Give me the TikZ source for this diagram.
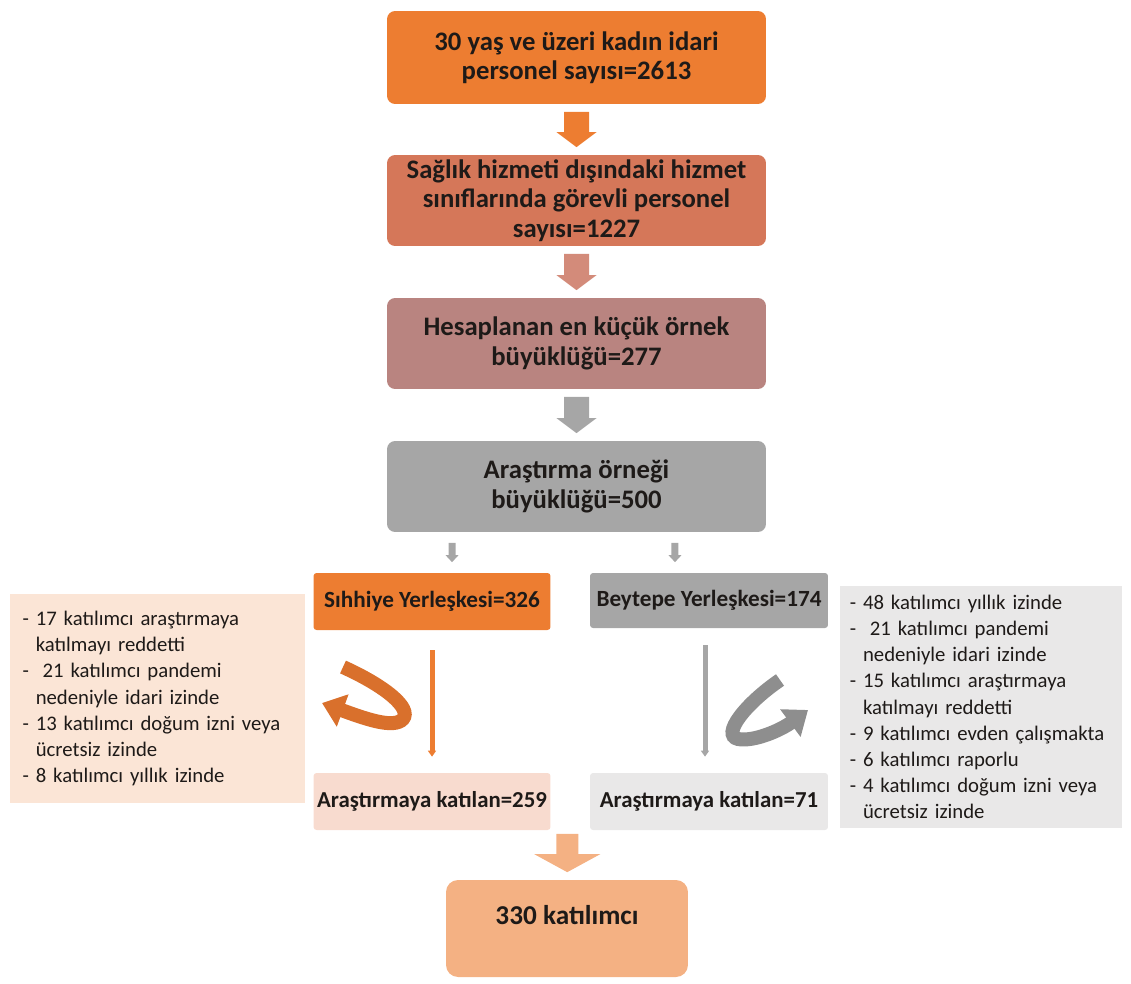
\documentclass[tikz,border=0pt]{standalone}
\usepackage{fontspec}
\setmainfont{Carlito}
\usetikzlibrary{calc,arrows.meta}
\definecolor{txt}{HTML}{1E1A18}
\definecolor{cOne}{HTML}{ED7D31}
\definecolor{cTwo}{HTML}{D57759}
\definecolor{cArTwo}{HTML}{D38B7A}
\definecolor{cThree}{HTML}{B98480}
\definecolor{cGray}{HTML}{A6A6A6}
\definecolor{cLnote}{HTML}{FBE5D6}
\definecolor{cRnote}{HTML}{E9E8E8}
\definecolor{cPink}{HTML}{F8DBCF}
\definecolor{cPeach}{HTML}{F4B183}
\definecolor{cUor}{HTML}{D9702C}
\definecolor{cUgr}{HTML}{8E8E8E}
\begin{document}
\begin{tikzpicture}[x=0.02cm,y=-0.02cm]
\tikzset{
  bigbox/.style={rounded corners=0.16cm, align=center, text=txt, inner sep=0pt,
    font=\bfseries\fontsize{15.2}{16.8}\selectfont, minimum width=7.58cm, minimum height=1.82cm},
  midbox/.style={rounded corners=0.06cm, align=center, text=txt, inner sep=0pt,
    font=\bfseries\fontsize{13.2}{15}\selectfont, minimum width=4.74cm, minimum height=1.14cm},
  notebox/.style={align=left, text=txt, inner ysep=0pt,
    font=\fontsize{11.8}{14.9}\selectfont},
  blockarrow/.style args={#1/#2/#3/#4}{to path={let \p1=(\tikztostart),\p2=(\tikztotarget) in
    (\x1-#1,\y1-#4) -- (\x1+#1,\y1-#4) -- (\x1+#1,\y2+#4+#3) -- (\x1+#2,\y2+#4+#3)
    -- (\x1,\y2+#4) -- (\x1-#2,\y2+#4+#3) -- (\x1-#1,\y2+#4+#3) -- cycle}},
  vline/.style={line width=0.1cm, -{Triangle[length=0.12cm,width=0.16cm]}},
  uarrow/.style={line width=0.28cm, -{Triangle[length=0.44cm,width=0.66cm]}}
}
\useasboundingbox (0,0) rectangle (1131,983);
% main boxes
\node[bigbox, fill=cOne, minimum height=1.86cm] (b1) at (576.5,57.5) {30 yaş ve üzeri kadın idari\\personel sayısı=2613};
\node[bigbox, fill=cTwo] (b2) at (576.5,200.5) {Sağlık hizmeti dışındaki hizmet\\sınıflarında görevli personel\\sayısı=1227};
\node[bigbox, fill=cThree] (b3) at (576.5,343.5) {Hesaplanan en küçük örnek\\büyüklüğü=277};
\node[bigbox, fill=cGray] (b4) at (576.5,486.5) {Araştırma örneği\\büyüklüğü=500};
% campus boxes
\node[midbox, fill=cOne] (b5) at (432,601.5) {Sıhhiye Yerleşkesi=326};
\node[midbox, fill=cGray, minimum width=4.76cm, minimum height=1.1cm] (b6) at (709,600.5) {Beytepe Yerleşkesi=174};
\node[midbox, fill=cPink, font=\bfseries\fontsize{13}{15}\selectfont] (b7) at (432,801.5) {Araştırmaya katılan=259};
\node[midbox, fill=cRnote, minimum width=4.76cm, font=\bfseries\fontsize{13}{15}\selectfont] (b8) at (709,801.5) {Araştırmaya katılan=71};
\node[bigbox, fill=cPeach, rounded corners=0.24cm, minimum width=4.84cm, minimum height=1.94cm, font=\bfseries\fontsize{15.5}{16}\selectfont] (b9) at (567,928.5) {330 katılımcı\\~};
% notes
\node[notebox, fill=cLnote, minimum width=5.9cm, minimum height=4.18cm, inner xsep=0.25cm, text width=5.4cm] (n1) at (157.5,698.5)
 {- 17 katılımcı araştırmaya\\\hphantom{- }katılmayı reddetti\\-\ \ 21 katılımcı pandemi\\\hphantom{- }nedeniyle idari izinde\\- 13 katılımcı doğum izni veya\\\hphantom{- }ücretsiz izinde\\- 8 katılımcı yıllık izinde};
\node[notebox, fill=cRnote, minimum width=5.64cm, minimum height=4.84cm, inner xsep=0.195cm, text width=5.25cm] (n2) at (981,707)
 {- 48 katılımcı yıllık izinde\\-\ \ 21 katılımcı pandemi\\\hphantom{- }nedeniyle idari izinde\\- 15 katılımcı araştırmaya\\\hphantom{- }katılmayı reddetti\\- 9 katılımcı evden çalışmakta\\- 6 katılımcı raporlu\\- 4 katılımcı doğum izni veya\\\hphantom{- }ücretsiz izinde};
% block arrows
\path[fill=cOne, blockarrow=0.25cm/0.4cm/0.3cm/0.15cm] (b1.south) to (b2.north);
\path[fill=cArTwo, blockarrow=0.25cm/0.4cm/0.3cm/0.15cm] (b2.south) to (b3.north);
\path[fill=cGray, blockarrow=0.25cm/0.4cm/0.3cm/0.15cm] (b3.south) to (b4.north);
\path[fill=cGray, blockarrow=0.07cm/0.13cm/0.14cm/0.21cm] ([xshift=-2.49cm]b4.south) to (b5.north);
\path[fill=cGray, blockarrow=0.07cm/0.13cm/0.14cm/0.21cm] ([xshift=1.97cm]b4.south) to (b6.north);
\coordinate (j) at ($(b7.south east)!0.5!(b8.south west)+(-3,-4)$);
\path[fill=cPeach, blockarrow=0.22cm/0.66cm/0.36cm/0.15cm] (j) to (b9.north);
% thin arrows
\draw[vline, draw=cOne, fill=cOne, shorten <=0.4cm, shorten >=0.32cm] (b5.south) -- (b7.north);
\draw[vline, draw=cGray, fill=cGray, shorten <=0.34cm, shorten >=0.32cm] ([xshift=-0.08cm]b6.south) -- ([xshift=-0.08cm]b8.north);
% U-turn arrows
\draw[uarrow, draw=cUor] (343,667) .. controls (385,686) and (412,708) .. (403,719) .. controls (394,729) and (366,719) .. (322,703);
\draw[uarrow, draw=cUgr] (780,680) .. controls (745,704) and (721,735) .. (738,739) .. controls (754,742) and (781,730) .. (808,710);
\end{tikzpicture}
\end{document}
